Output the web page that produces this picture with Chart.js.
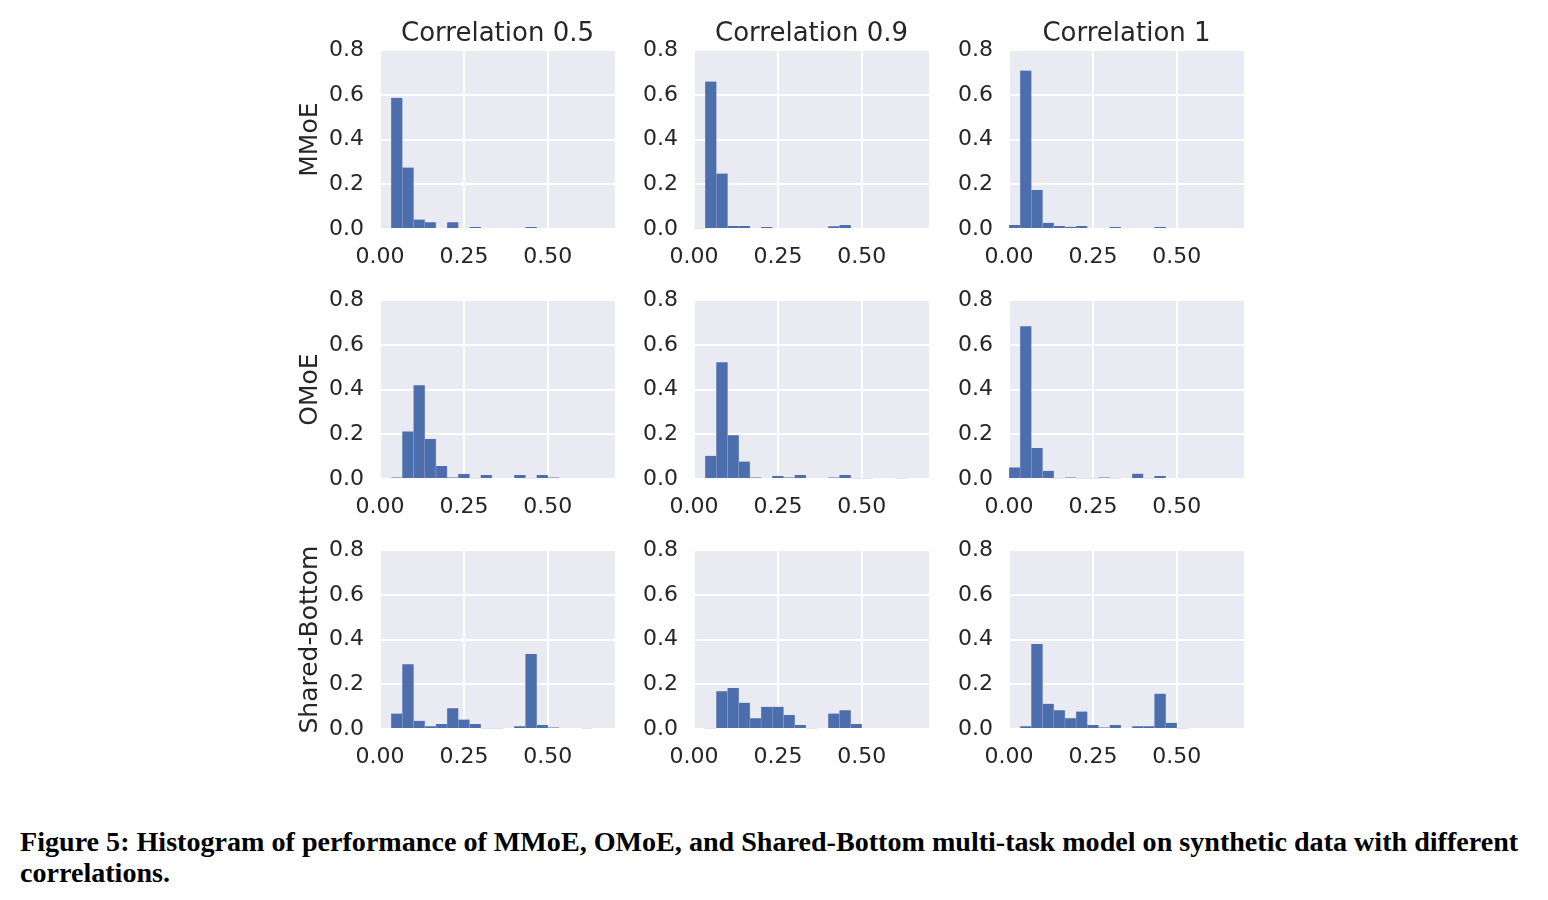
<!DOCTYPE html>
<html>
<head>
<meta charset="utf-8">
<script src="https://cdn.jsdelivr.net/npm/chart.js@4.4.1/dist/chart.umd.min.js"></script>
<style>
  body { margin: 0; background: #fff; width: 1548px; height: 900px; position: relative; overflow: hidden; }
  canvas { position: absolute; }
  #caption {
    position: absolute; left: 20px; top: 826px;
    font-family: "Liberation Serif", serif; font-weight: bold; font-size: 28.1px; line-height: 31px;
    color: #000; white-space: nowrap;
  }
</style>
</head>
<body>
<div id="caption">Figure 5: Histogram of performance of MMoE, OMoE, and Shared-Bottom multi-task model on synthetic data with different<br>correlations.</div>
<script>
// histogram bins: 21 bins of equal width on [0, 0.7]
const binCount = 21;
const binWidth = 0.7 / binCount;

const columnTitles = ["Correlation 0.5", "Correlation 0.9", "Correlation 1"];
const rowLabels = ["MMoE", "OMoE", "Shared-Bottom"];
const xTicks = [0, 0.25, 0.5];
const yTicks = [0, 0.2, 0.4, 0.6, 0.8];

// fraction of runs per bin
const mmoe05 = [0.005, 0.587, 0.275, 0.042, 0.03, 0, 0.03, 0, 0.009, 0, 0, 0, 0, 0.009, 0, 0, 0.005, 0.005, 0, 0, 0];
const mmoe09 = [0.003, 0.66, 0.248, 0.013, 0.013, 0, 0.009, 0.004, 0.004, 0, 0, 0.004, 0.012, 0.018, 0.004, 0, 0, 0, 0, 0, 0];
const mmoe1 = [0.018, 0.709, 0.175, 0.028, 0.013, 0.01, 0.013, 0.004, 0, 0.009, 0.004, 0, 0, 0.009, 0, 0, 0, 0, 0, 0, 0];
const omoe05 = [0, 0.007, 0.213, 0.42, 0.179, 0.058, 0.007, 0.022, 0.003, 0.018, 0, 0, 0.018, 0.003, 0.018, 0.007, 0, 0, 0, 0, 0];
const omoe09 = [0, 0.104, 0.522, 0.196, 0.078, 0.007, 0, 0.013, 0.007, 0.018, 0, 0, 0.007, 0.018, 0.003, 0.003, 0, 0, 0.003, 0, 0];
const omoe1 = [0.052, 0.684, 0.139, 0.037, 0.003, 0.007, 0.003, 0.003, 0.007, 0.003, 0, 0.024, 0.003, 0.013, 0, 0, 0, 0, 0, 0, 0];
const shared05 = [0, 0.069, 0.29, 0.037, 0.012, 0.022, 0.093, 0.042, 0.022, 0.003, 0.003, 0, 0.012, 0.336, 0.018, 0.007, 0, 0, 0.003, 0, 0];
const shared09 = [0, 0.003, 0.169, 0.184, 0.118, 0.048, 0.099, 0.099, 0.063, 0.018, 0.003, 0, 0.069, 0.084, 0.022, 0, 0, 0, 0, 0, 0];
const shared1 = [0, 0.012, 0.38, 0.113, 0.084, 0.048, 0.078, 0.018, 0.007, 0.018, 0, 0.012, 0.012, 0.158, 0.028, 0.003, 0, 0, 0, 0, 0];

const grid = [
  [mmoe05, mmoe09, mmoe1],
  [omoe05, omoe09, omoe1],
  [shared05, shared09, shared1]
];

const plotLefts = [379.5, 694, 1009];
const plotTops = [50.5, 300.5, 550.5];
const axisW = 100, axisH = 45, titleH = 46.2;

const textColor = '#262626';
const font = 'DejaVu Sans';

const plotBg = {
  id: 'plotBg',
  beforeDraw(chart) {
    const {ctx, chartArea: a} = chart;
    ctx.save();
    ctx.fillStyle = '#EAEAF2';
    ctx.fillRect(a.left, a.top, a.right - a.left, a.bottom - a.top);
    ctx.restore();
  }
};

const centers = Array.from({length: binCount}, (_, i) => (i + 0.5) * binWidth);

grid.forEach((row, r) => {
  row.forEach((values, c) => {
    const canvas = document.createElement('canvas');
    canvas.width = 345;
    canvas.height = Math.round(titleH + 179 + axisH);
    canvas.style.left = (plotLefts[c] - axisW) + 'px';
    canvas.style.top = (plotTops[r] - titleH) + 'px';
    document.body.appendChild(canvas);

    new Chart(canvas.getContext('2d'), {
      type: 'bar',
      data: {
        datasets: [{
          data: centers.map((x, i) => ({x: x, y: values[i]})),
          backgroundColor: '#4C6EAD',
          borderColor: '#8A9DC6',
          borderWidth: {left: 0.6, right: 0.6, top: 0, bottom: 0},
          borderSkipped: false,
          barPercentage: 1,
          categoryPercentage: 1
        }]
      },
      options: {
        responsive: false,
        animation: false,
        layout: { padding: {right: 10, left: 0, top: 0, bottom: 0} },
        plugins: {
          legend: { display: false },
          tooltip: { enabled: false },
          title: {
            display: true,
            fullSize: false,
            text: r === 0 ? columnTitles[c] : '',
            color: textColor,
            font: { family: font, size: 26, weight: 'normal' },
            padding: { top: 15, bottom: 0 }
          }
        },
        scales: {
          x: {
            type: 'linear',
            min: 0,
            max: 0.7,
            offset: false,
            afterBuildTicks: s => { s.ticks = xTicks.map(v => ({value: v})); },
            afterFit: s => { s.height = axisH; },
            grid: { color: '#ffffff', lineWidth: 2, drawTicks: false, offset: false },
            border: { display: false },
            ticks: {
              color: textColor,
              padding: 15,
              maxRotation: 0,
              font: { family: font, size: 22 },
              callback: v => v.toFixed(2)
            }
          },
          y: {
            min: 0,
            max: 0.8,
            afterBuildTicks: s => { s.ticks = yTicks.map(v => ({value: v})); },
            afterFit: s => { s.width = axisW; },
            grid: { color: '#ffffff', lineWidth: 2, drawTicks: false },
            border: { display: false },
            title: {
              display: c === 0,
              text: rowLabels[r],
              color: textColor,
              font: { family: font, size: 25 },
              padding: { top: 15.5, bottom: 0 }
            },
            ticks: {
              color: textColor,
              padding: 16,
              font: { family: font, size: 22 },
              callback: v => v.toFixed(1)
            }
          }
        }
      },
      plugins: [plotBg]
    });
  });
});
</script>
</body>
</html>
